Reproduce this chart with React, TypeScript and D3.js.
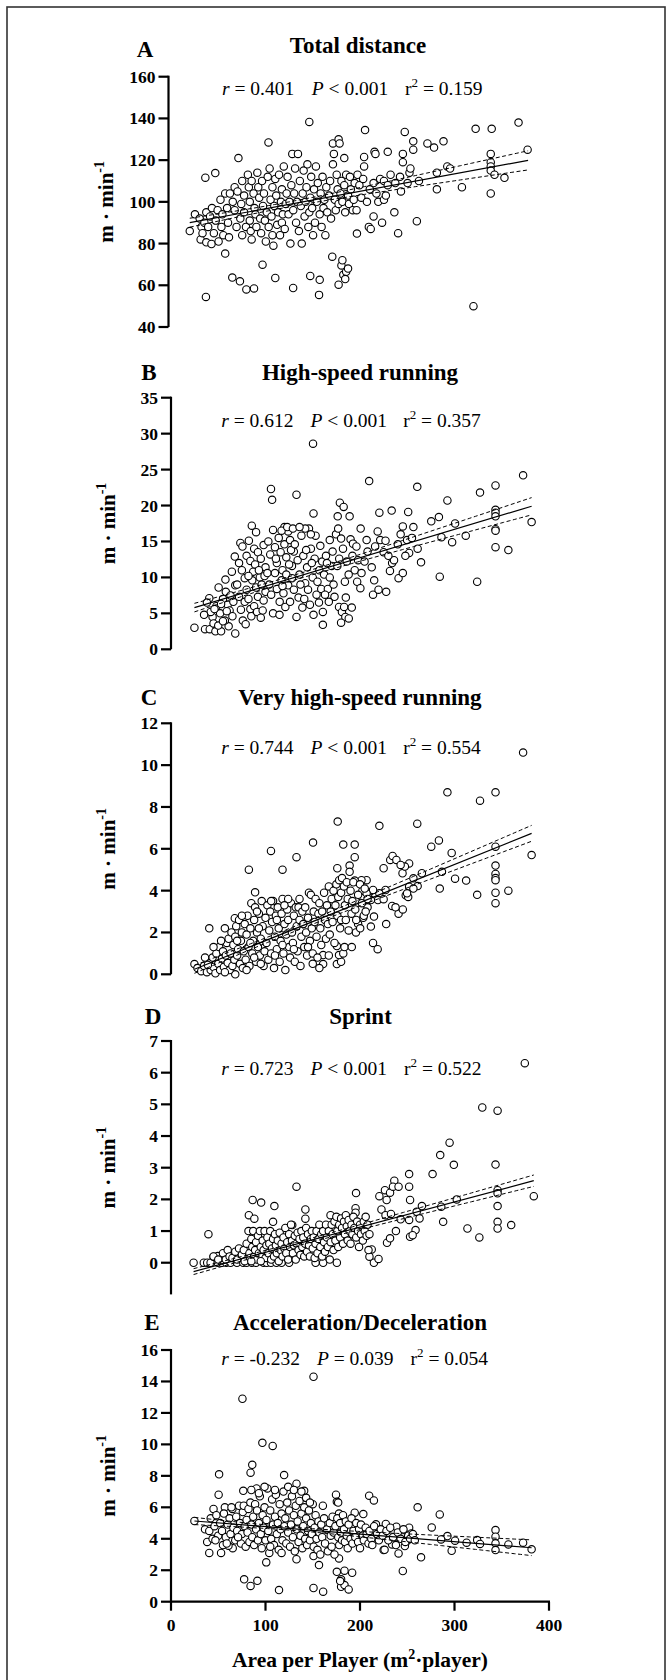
import React from 'react';
import * as d3 from 'd3';

// ---------- DATA ----------
const panelLetters = ['A', 'B', 'C', 'D', 'E'];
const panelTitles = ['Total distance', 'High-speed running', 'Very high-speed running', 'Sprint', 'Acceleration/Deceleration'];
const statR = ['0.401', '0.612', '0.744', '0.723', '-0.232'];
const statPOp = ['<', '<', '<', '<', '='];
const statP = ['0.001', '0.001', '0.001', '0.001', '0.039'];
const statR2 = ['0.159', '0.357', '0.554', '0.522', '0.054'];
const xTicks = [0, 100, 200, 300, 400];
const yDomains = [[40, 160], [0, 35], [0, 12], [-1, 7], [0, 16]];
const yTickValues = [
  [40, 60, 80, 100, 120, 140, 160],
  [0, 5, 10, 15, 20, 25, 30, 35],
  [0, 2, 4, 6, 8, 10, 12],
  [0, 1, 2, 3, 4, 5, 6, 7],
  [0, 2, 4, 6, 8, 10, 12, 14, 16],
];
// regression fits: line ends (x0,y0)-(x1,y1), mean x, CI half-width at mean and at x1
const fits = [
  { x0: 22.5, x1: 380.5, y0: 90.0, y1: 119.9, xm: 125, hm: 1.2, h1: 4.6 },
  { x0: 24.8, x1: 381.6, y0: 5.8, y1: 19.9, xm: 130, hm: 0.35, h1: 1.2 },
  { x0: 24.8, x1: 381.6, y0: 0.24, y1: 6.74, xm: 130, hm: 0.12, h1: 0.38 },
  { x0: 23.9, x1: 383.9, y0: -0.28, y1: 2.59, xm: 130, hm: 0.06, h1: 0.18 },
  { x0: 24.8, x1: 381.6, y0: 5.13, y1: 3.43, xm: 130, hm: 0.1, h1: 0.5 },
];

const totalDistance: number[][] = [
  [22.5,86],[28,94],[33,92],[34,82],[35,88],[40,80.6],[39,111.6],[39.6,54.4],[38,90],[40,95],[36,85],
  [42,88],[44,93],[45.5,79.8],[46,97],[48,85],[49.5,113.8],[50,91],[52,96],[53,81],[55,101],[56,88],[57,94],[58,84],[60,75.2],[60,104],[62,97],[63,90],[64,83],[65,104],
  [67.5,63.7],[68,100],[70,96],[70,107],[72,88],[73,105],[74,121],[75.6,61.9],[76,92],[77,99],[78,84],[78,110],[80,103],[80,95],[82.4,58],[82,88],
  [84,113],[85,107],[86,100],[86,91],[87,86],[88,82],[88,110],[90.5,58.5],[90,104],[91,97],[92,94],[93,88],[94,114],[95,107],[96,102],[97,92],[98,85],[99.5,69.9],[99,110],[100,98],
  [101,104],[102,91],[103,81],[104,95],[105,112],[105.8,128.5],[106,88],[107,116],[108,101],[109,93],[110,84],[110,107],[111,79],[112,98],[113,63.5],[113,111],[114,103],[115,89],[116,95],[117,113],[118,84],[119,100],[120,106],[120,90],
  [121,94],[122,117],[123,87],[124,99],[125,104],[126,112],[127,94],[128,100],[129,80],[130,108],[131,123],[131.9,58.7],[132,96],[133,104],[134,116],[135,90],[136,100],[137,123],[138,86],[139,110],[140,98],
  [141,80],[142,104],[143,115],[144,93],[145,100],[146,107],[147,118],[148,88],[149,138.3],[149,95],[150,64.5],[150,102],[151,112],[152,97],[153,84],[154,106],[155,90],[156,117],[157,100],[158,109],[159.3,55.4],[160,62.6],[160,94],
  [161,104],[162,88],[163,112],[164,97],[165,101],[166,84],[167,107],[168,95],[170,103],[171,110],[172,92],[173.3,73.7],[174,118],[174,128],[175,123],[176,101],[177,96],[178,113],[179,106],[180,60.3],[180,99],[180,130],[183,69.5],[185,65],[188,66.5],[190,68],[181,128],[186,121],
  [182,104],[183,110],[184,100],[186,108],[187,95],[188,113],[190,103],[191,99],[192,112],[193,106],[195,96],[196,101],[197,109],[199,96],[199.4,84.8],[200,113],[184,72],[187,63],
  [202,108],[204,102],[206,111],[207,117],[207,121.5],[208,134.4],[210,100],[212,88],[213,106],[214,87],[217,93],[217,109],[218,124],[219,123],[220,104],[222,100],[224,111],[226,90],[228,101],[228,110],[230,103],[232,124],[232,108],[235,113],[239,95],[240,109],[243,85],[245,112],[246,105],[248,123],[248,119],[250,133.5],[253,109],[255,114],[256,116],[259,129],[259,125],[262.8,90.7],
  [265,110],[274,128],[281,126],[284,114],[284,106],[291,129],[295,117],[298,116],[310.5,107],[322.7,50],[325,135],[341,123],[341,119],[341,117],[341,115],[341,104],[342,135],[345,113],[355.5,111.5],[370.4,138],[380,125],
];

const highSpeed: number[][] = [
  [24.8,3.0],[36,2.8],[41,2.8],[47,2.5],[53,2.5],[61,3.2],[68,2.2],[40.5,7.1],[50.4,8.6],[57.6,9.7],[64.4,10.8],[67.5,12.9],[44,4.5],[48,6.0],[52,5.0],[55,7.0],[57,4.0],[60,6.2],[62,5.4],[65,4.6],[45,3.6],[50,3.3],[55,3.9],[58,8.0],[63,7.5],[66,6.6],[68,8.9],[42,5.2],[46,5.6],[53,6.3],[59,5.3],[35,4.8],[38,6.5],
  [73.4,14.8],[75.6,14.3],[82.4,15.1],[85.5,17.2],[90,16.3],[72,12.0],[75,11.0],[78,9.9],[80,13.0],[84,12.3],[87,10.8],[88,14.0],[92,13.5],[95,12.6],[98,14.5],[70,9.0],[72,7.3],[74,5.5],[76,4.0],[78,6.6],[80,8.3],[82,7.0],[84,5.6],[86,9.6],[88,6.0],[90,8.6],[92,7.3],[94,10.0],[96,9.0],[98,6.8],[100,11.4],[100,8.0],[79,3.5],[85,4.6],[91,5.2],[97,5.4],[95,4.4],[82,10.2],[89,11.8],[93,11.0],[99,10.2],
  [105.8,22.3],[107,20.8],[103,15.0],[105,13.2],[108,16.6],[110,14.2],[112,12.0],[114,15.5],[116,13.5],[118,11.0],[120,14.6],[122,12.8],[124,16.4],[126,15.2],[128,11.6],[130,13.6],[102,10.6],[104,9.0],[106,7.6],[108,5.0],[110,10.6],[112,8.4],[114.8,4.8],[115,6.6],[117,9.6],[119,7.8],[121,5.9],[122,10.4],[124,8.9],[126,6.6],[128,9.9],[130,8.3],[111,12.6],[118,8.8],[125,11.8],[127,13.8],[120,17.0],[117,16.5],[123,17.0],[129,16.8],
  [132.8,21.5],[132.8,4.5],[134,12.4],[136,10.4],[138,15.8],[140,13.0],[142,9.2],[144,11.4],[146,16.8],[148,14.0],[150.3,28.6],[150.8,18.9],[150.8,4.8],[150,10.0],[152,12.6],[154,7.6],[156.6,6.5],[157,11.0],[158,14.4],[160.7,5.2],[160.7,3.4],[135,7.2],[137,9.0],[139,5.8],[141,7.0],[143,13.8],[145,8.3],[147,6.2],[149,12.0],[153,15.8],[155,9.4],[159,8.4],[160,12.2],[131,14.6],[142,16.8],[148,16.0],[136,17.0],
  [162,10.4],[164,13.0],[166,8.4],[168,15.2],[170,11.6],[172,9.0],[174.6,16.0],[176.4,18.5],[176.9,16.8],[177.8,5.9],[178.7,20.4],[182.7,19.8],[180,15.4],[180.9,5.2],[183.2,5.9],[184.5,4.5],[188.1,4.3],[180,3.7],[191.3,5.8],[189,18.5],[190,15.3],[192.6,14.7],[194.4,11.0],[196.2,14.3],[197,9.4],[200.4,8.5],[200.7,16.8],[201.6,10.6],[165,12.0],[168,10.0],[171,13.6],[173,7.3],[176,11.6],[178,12.6],[182,14.0],[184,9.4],[186,12.2],[188,10.4],[192,13.0],[198,12.4],[167,6.6],[163,7.6],[185,7.2],
  [204.8,12.2],[207,15.2],[208,13.6],[209.7,23.4],[212.4,11.4],[213.8,7.6],[215,9.6],[216,14.3],[218.7,16.4],[219.6,8.3],[221.4,15.2],[220.5,19.0],[227,15.1],[227.7,8.0],[231.7,10.9],[234,12.0],[233.5,19.3],[236,12.4],[240.8,9.9],[245.3,10.6],[245.3,17.1],[249.8,15.2],[251,19.1],[252,13.4],[256.5,17.0],[260.6,22.6],[261,14.0],[264.6,12.1],[225,13.5],[240,14.6],[248,13.0],[255,15.5],[230,13.0],[243,16.0],
  [275.4,17.8],[283.5,18.4],[284.4,10.1],[286.2,15.6],[292.5,20.7],[297.5,14.9],[300.6,17.5],[311.9,15.8],[324,9.4],[327,21.8],[343.4,22.8],[343.4,19.4],[343.4,19.0],[343.4,18.5],[343.4,16.7],[343.4,16.5],[343.4,14.2],[357,13.8],[372.6,24.2],[381.6,17.7],
];

const veryHighSpeed: number[][] = [
  [24.8,0.49],[40.5,2.2],[57,2.2],[67.5,2.68],[68,0],[82.4,5.0],[89,3.92],[105.8,5.9],[118,5.0],[132.8,5.6],[150.3,6.3],[176.4,7.3],[182.3,6.2],[194.4,6.2],[194.4,5.6],[189,5.2],[176,5.07],[220.5,7.1],[260.6,7.2],[275.4,6.1],[283.5,6.4],[292.5,8.7],[327,8.3],[343.4,8.7],[372.6,10.6],[381.6,5.7],[297,5.8],[286.7,4.9],[300.6,4.57],[312.3,4.48],[284.4,4.1],[324,3.8],[343.4,6.1],[343.4,5.2],[343.4,4.8],[343.4,4.6],[343.4,4.5],[343.4,3.9],[343.4,3.4],[357,4.0],
  [161,0.92],[161,0.49],[175.5,0.49],[180,0.6],[177.8,0.92],[182.3,1.0],[183.6,1.3],[191.3,1.3],[175.5,1.35],[213.8,1.5],[218.7,1.2],[211.5,2.28],[214.8,2.76],[227.7,2.4],[240.8,2.9],[245.3,3.1],[234,3.27],[237.6,3.2],[248.4,3.78],[251,3.7],[216,3.7],[208,3.2],[203.5,2.7],[198,2.4],[195.7,2.0],[200.2,2.2],[202.5,4.0],[207,4.5],[201.6,4.5],[194.4,4.48],[189,4.9],
  [225,5.07],[232,5.47],[234.5,5.66],[238.5,5.47],[245,4.83],[252,5.3],[256.5,4.59],[261,4.22],[265.5,4.83],[252,4.19],[256.5,4.1],[249.8,3.87],[247.5,5.15],[243,5.23],[227,4.03],[220.5,3.87],[219,3.55],[225,3.59],[213.8,4.03],[207,3.87],[211.5,3.55],
  [28,0.3],[32,0.15],[35,0.4],[38,0.1],[40,0.6],[42,0.2],[44,0.8],[45,0.35],[47,0.05],[48,1.0],[50,0.5],[51,1.3],[52,0.2],[54,0.75],[55,1.1],[56,0.35],[58,0.9],[59,1.5],[60,0.55],[61,1.7],[62,0.2],[36,0.8],[45,1.3],[53,1.6],[57,0.1],[39,0.45],
  [63,1.0],[64,2.0],[65,0.4],[66,1.4],[67,0.7],[68,1.8],[69,2.3],[70,0.9],[71,1.2],[72,2.6],[73,0.5],[74,1.6],[75,2.0],[76,0.3],[77,1.1],[78,2.4],[79,0.7],[80,1.9],[81,2.8],[82,1.3],[83,0.4],[84,2.2],[85,3.4],[86,1.0],[87,1.6],[88,2.6],[89,3.2],[90,0.6],[91,2.0],[92,1.3],[93,2.9],[94,0.9],[95,1.7],[96,3.5],[97,2.3],[98,0.4],[99,1.1],[100,2.7],[75,2.8],[80,0.2],[84,1.5],[91,3.0],[95,0.5],[70,1.6],[88,0.8],[93,2.2],
  [101,1.5],[102,3.3],[103,0.7],[104,2.1],[105,3.0],[106,1.0],[107,2.5],[108,3.5],[109,0.3],[110,1.8],[111,2.8],[112,1.2],[113,3.2],[114,2.2],[115,0.6],[116,1.6],[117,2.9],[118,3.6],[119,1.0],[120,2.4],[121,0.2],[122,1.9],[123,3.1],[124,2.6],[125,1.3],[126,0.8],[127,3.4],[128,2.0],[129,1.5],[130,2.8],[131,0.6],[132,3.2],[133,2.3],[134,1.1],[135,3.2],[136,2.6],[137,0.4],[138,1.8],[139,3.0],[140,2.4],[106,3.5],[112,2.6],[118,1.4],[124,3.6],[130,1.2],[136,3.6],[110,0.9],[120,3.3],
  [141,1.3],[142,3.2],[143,2.0],[144,0.9],[145,2.7],[146,3.9],[147,1.6],[148,3.8],[149,2.2],[150,1.0],[151,3.0],[152,2.5],[153,3.6],[154,1.8],[155,0.8],[156,2.9],[157,3.4],[158,2.2],[159,1.4],[160,3.0],[162,3.9],[163,2.6],[164,1.7],[165,3.3],[166,2.4],[167,4.2],[168,1.9],[169,3.0],[170,3.6],[171,2.5],[172,4.0],[173,1.5],[174,3.3],[175,4.3],[176,2.8],[177,3.7],[178,4.5],[179,2.2],[180,3.9],[181,4.6],[150,0.5],[157,0.3],[145,1.3],[167,0.9],[180,2.6],
  [183,4.2],[184,3.3],[185,2.6],[186,4.4],[187,3.6],[188,2.1],[190,4.0],[191,2.9],[192,3.5],[193,4.4],[195,3.1],[196,2.6],[198,3.8],[200,4.3],[202,3.4],[204,2.8],[205,4.1],[206,3.0],[208,3.6],
];

const sprint: number[][] = [
  [23.9,0],[34.7,0],[38.3,0],[41.9,0],[49.5,0],[54,0],[58.5,0],[63,0],[69.8,0],[76.5,0],[80,0],[85.5,0],[90,0],[98,0],[101.3,0],[105.8,0],[111.6,0],[117,0],[125,0],[153,0],[161,0],[175.5,0],
  [39.6,0.9],[45,0.19],[49.5,0.21],[54,0.08],[82.4,1.5],[86.4,1.98],[95.4,1.9],[109.4,1.79],[88.2,1.39],[108,1.29],[132.8,2.4],[142.2,1.68],[142.2,1.39],[128.3,1.19],[168.8,1.5],[195.8,2.2],[195.3,1.72],[195.3,1.58],
  [220.5,2.1],[226.4,2.29],[228.2,1.98],[231.8,2.21],[236.3,2.59],[234.9,2.4],[240.8,2.4],[252,2.8],[252,2.4],[253,1.98],[276.8,2.8],[284.9,3.4],[294.8,3.79],[299.3,3.09],[288,1.29],[286,1.77],[302.4,2.0],[313.7,1.08],[326.3,0.8],[329.4,4.9],[345.6,4.8],[343.4,3.1],[345.6,2.29],[345.6,2.19],[345.6,1.79],[345.6,1.29],[345.6,1.08],[360,1.19],[374.4,6.3],[383.9,2.1],
  [265.5,1.79],[260,1.61],[263,1.4],[252,1.35],[243,1.37],[258.8,1.03],[253,0.82],[255.7,0.87],[238,1.0],[228.6,0.63],[231.8,0.77],[214.7,0],[219.6,0.12],[210,0.19],[212.4,0.42],[222.7,1.68],[227,1.5],[232.8,1.54],
  [45,0.2],[50,0.1],[55,0.3],[58,0.1],[60,0.4],[62,0.2],[65,0.15],[68,0.35],[70,0.1],[72,0.45],[75,0.25],[77,0.4],[78,0.05],[80,0.6],[82,1.0],[83,0.3],[84,0.15],[85,0.75],[86,0.5],[87,1.0],[88,0.2],[89,0.4],[90,0.65],[91,0.1],[92,0.85],[93,0.3],[94,1.0],[95,0.5],[96,0.2],[97,0.7],[98,0.4],[99,1.0],[100,0.15],[101,0.55],[85,0.05],[95,0.05],
  [102,0.8],[103,0.3],[104,0.6],[105,1.0],[106,0.1],[107,0.45],[108,0.75],[109,0.2],[110,0.9],[111,0.55],[112,0.3],[113,0.7],[114,0.05],[115,0.95],[116,0.4],[117,0.6],[118,0.2],[119,0.8],[120,0.45],[121,1.1],[122,0.3],[123,0.65],[124,0.1],[125,0.9],[126,0.5],[127,1.2],[128,0.7],[129,0.3],[130,0.55],[131,0.85],[132,0.1],[133,0.6],[134,0.95],[135,0.4],[136,0.75],[137,0.25],[138,1.0],[139,0.5],[140,0.8],[141,0.2],[142,0.6],[143,1.1],[144,0.35],[145,0.9],[146,0.55],[147,0.2],[148,0.75],[149,1.0],[150,0.45],[151,0.8],[152,0.15],
  [153,0.6],[154,1.0],[155,0.3],[156,0.75],[157,1.2],[158,0.5],[159,0.9],[160,0.2],[161,1.0],[162,0.65],[163,0.35],[164,1.2],[165,0.8],[166,0.5],[167,1.0],[168,0.1],[169,0.65],[170,1.2],[171,0.9],[172,0.4],[173,1.3],[174,0.7],[175,1.45],[176,1.0],[177,0.5],[178,1.2],[179,0.8],[180,1.4],[181,1.1],[182,0.6],[183,1.3],[184,0.9],[185,1.5],[186,1.15],[187,0.7],[188,1.35],[189,1.0],[190,0.6],[191,1.2],[192,0.9],[193,1.45],[194,1.1],[196,0.8],[197,1.3],[198,1.0],[199,0.5],[200,1.2],[201,0.9],[203,0.7],[204,1.3],[205,1.0],[206,1.45],[207,0.85],[208,1.2],[209,0.4],[210,0.9],
];

const accDec: number[][] = [
  [24.8,5.13],[36,4.6],[40.5,4.5],[38.3,3.8],[40.5,3.1],[53,3.1],[65.3,3.4],[60.8,3.56],[50.9,8.1],[50.4,6.8],[45,5.9],[57,6.0],[75.6,12.9],[76.5,7.05],[77.4,1.42],[84.2,1.0],[91.4,1.33],[86,8.7],[84.2,8.2],[90.5,7.2],[96.7,10.1],[107.6,9.9],[119.7,8.05],[100.8,2.5],[114.3,0.74],[132.8,2.7],[132.8,7.5],[140.9,7.05],[150.8,14.3],[150.8,0.87],[161,0.64],[156.6,2.33],[150.8,2.9],[160.7,6.1],
  [174.6,6.8],[175.5,6.35],[176.9,6.3],[177.8,5.6],[177.8,2.75],[175.5,1.9],[180,1.42],[180,0.95],[183.6,1.06],[183.6,1.97],[188,0.78],[191.7,1.84],[179,1.31],[194.4,5.66],[203.5,5.57],[209.7,6.74],[214.7,6.44],
  [245.3,1.95],[261,6.0],[264.6,2.82],[275.9,4.72],[284.4,5.55],[297,3.24],[292.5,4.17],[285.8,3.96],[300.6,3.88],[312.8,3.75],[324,3.92],[327,3.67],[343.4,4.55],[343.4,4.13],[343.4,3.71],[343.4,3.28],[357,3.64],[372.6,3.75],[381.6,3.33],
  [240.8,3.07],[249.8,3.86],[252,4.7],[254.3,4.34],[247.5,3.54],[227.3,4.94],[238.5,4.77],[225,3.28],[234,3.64],[216.9,4.92],[215,3.92],
  [42,5.3],[44,4.0],[46,4.8],[48,5.5],[50,4.2],[52,5.0],[54,4.5],[55,3.6],[56,5.6],[58,4.1],[60,4.9],[62,5.3],[63,4.3],[65,5.9],[66,4.7],[68,3.9],[69,5.4],[70,4.5],[72,6.1],[73,5.0],[74,3.7],[75,4.3],[76,5.7],[77,6.1],[78,4.8],[79,3.5],[80,5.2],[47,3.9],[59,3.7],[64,6.0],[71,4.1],
  [81,4.4],[82,5.9],[83,3.8],[84,6.3],[85,4.9],[86,4.1],[87,5.4],[88,3.6],[89,6.2],[90,4.6],[91,5.8],[92,3.9],[93,5.0],[94,6.7],[95,4.3],[96,3.4],[97,5.5],[98,4.7],[99,6.0],[100,3.9],[101,5.2],[102,7.2],[103,4.5],[104,3.1],[105,5.8],[106,4.0],[107,6.5],[108,4.9],[109,3.6],[110,5.4],[111,6.8],[112,4.3],[113,5.0],[114,3.3],[115,6.2],[116,4.6],[117,5.6],[118,3.9],[119,7.0],[120,4.8],[85,7.1],[93,6.9],[99,7.3],[105,3.5],[110,7.1],[117,3.1],
  [121,5.3],[122,3.7],[123,6.3],[124,4.4],[125,5.8],[126,3.5],[127,4.9],[128,6.7],[129,4.1],[130,5.5],[131,3.2],[132,6.1],[133,4.6],[134,5.1],[135,3.8],[136,6.4],[137,4.2],[138,5.6],[139,3.4],[140,4.8],[141,6.0],[142,4.0],[143,5.3],[144,3.6],[145,4.5],[146,5.8],[147,3.9],[148,5.0],[149,4.3],[150,6.2],[151,3.5],[152,4.7],[153,5.5],[154,4.0],[155,3.3],[156,5.1],[157,4.4],[158,3.0],[159,4.9],[160,4.1],[124,7.3],[130,7.1],[138,7.0],[143,6.6],[147,6.3],
  [162,5.3],[163,3.7],[165,4.6],[166,3.2],[168,5.0],[169,4.2],[170,3.5],[171,5.4],[172,4.4],[173,3.0],[174,4.8],[176,5.3],[177,4.1],[178,3.6],[179,5.0],[180,4.4],[181,3.9],[182,5.5],[183,4.6],[184,3.8],[185,5.1],[186,4.2],[187,3.4],[188,4.9],[190,4.0],[191,5.3],[192,3.7],[193,4.5],[195,4.1],[196,5.0],[198,3.8],[199,4.6],[200,3.4],[201,4.9],[203,4.2],[204,3.9],[206,4.7],[207,4.3],[209,3.7],[210,4.5],[212,4.0],[213,3.6],[215,4.8],[218,4.3],[220,3.9],
  [222,4.6],[224,4.2],[226,3.3],[228,4.5],[230,3.9],[232,4.7],[235,4.1],[238,3.6],[240,4.4],[243,4.0],[246,4.6],[248,3.8],[251,4.2],[253,4.0],[256,4.3],[258,3.9],
];

const panelData = [totalDistance, highSpeed, veryHighSpeed, sprint, accDec];

// ---------- LAYOUT ----------
const layout = [
  { axisX: 168.5, yPix: [327, 76.7], letterX: 145, letterY: 57, titleX: 358, titleY: 53, statY: 95, statX: [222, 311.8, 405], ylabX: 112.5 },
  { axisX: 171, yPix: [649.3, 397.7], letterX: 149, letterY: 379.5, titleX: 360, titleY: 379.5, statY: 427, statX: [221.2, 310.5, 403.2], ylabX: 115 },
  { axisX: 171, yPix: [974.3, 723.3], letterX: 149, letterY: 704.5, titleX: 360, titleY: 704.5, statY: 754, statX: [221.2, 310.5, 403.2], ylabX: 115 },
  { axisX: 171, yPix: [1294.4, 1041], letterX: 153, letterY: 1024, titleX: 360.5, titleY: 1024, statY: 1075, statX: [221.2, 310.5, 404], ylabX: 115 },
  { axisX: 171, yPix: [1601.7, 1350], letterX: 152, letterY: 1330, titleX: 360, titleY: 1330, statY: 1365, statX: [221.2, 316.9, 410.5], ylabX: 115 },
];

const FONT = '"Liberation Serif", "Times New Roman", Times, serif';

function Panel({ idx }: { idx: number }) {
  const L = layout[idx];
  const pts = panelData[idx];
  const fit = fits[idx];
  const xs = d3.scaleLinear().domain([0, 400]).range([L.axisX, L.axisX + 378]);
  const ys = d3.scaleLinear().domain(yDomains[idx]).range(L.yPix);
  const slope = (fit.y1 - fit.y0) / (fit.x1 - fit.x0);
  const yhat = (x: number) => fit.y0 + slope * (x - fit.x0);
  const k2 = (fit.h1 * fit.h1 - fit.hm * fit.hm) / ((fit.x1 - fit.xm) * (fit.x1 - fit.xm));
  const half = (x: number) => Math.sqrt(fit.hm * fit.hm + k2 * (x - fit.xm) * (x - fit.xm));
  const samples = d3.range(0, 61).map((i) => fit.x0 + ((fit.x1 - fit.x0) * i) / 60);
  const line = d3.line<number>().x((x) => xs(x));
  const upper = line.y((x) => ys(yhat(x) + half(x)))(samples) || '';
  const lower = d3.line<number>().x((x) => xs(x)).y((x) => ys(yhat(x) - half(x)))(samples) || '';
  const mid = d3.line<number>().x((x) => xs(x)).y((x) => ys(yhat(x)))([fit.x0, fit.x1]) || '';
  const yMid = (L.yPix[0] + L.yPix[1]) / 2;
  const isLast = idx === 4;
  const dom = yDomains[idx];

  return (
    <g>
      <text x={L.letterX} y={L.letterY} textAnchor="middle" fontFamily={FONT} fontWeight="bold" fontSize={23}>{panelLetters[idx]}</text>
      <text x={L.titleX} y={L.titleY} textAnchor="middle" fontFamily={FONT} fontWeight="bold" fontSize={23}>{panelTitles[idx]}</text>
      <g fontFamily={FONT} fontSize={19.5}>
        <text x={L.statX[0]} y={L.statY}><tspan fontStyle="italic">r</tspan>{' = ' + statR[idx]}</text>
        <text x={L.statX[1]} y={L.statY}><tspan fontStyle="italic">P</tspan>{' ' + statPOp[idx] + ' ' + statP[idx]}</text>
        <text x={L.statX[2]} y={L.statY}>r<tspan dy={-8} fontSize={13}>2</tspan><tspan dy={8}>{' = ' + statR2[idx]}</tspan></text>
      </g>
      <text transform={`translate(${L.ylabX},${yMid}) rotate(-90)`} textAnchor="middle" fontFamily={FONT} fontWeight="bold" fontSize={21}>
        {'m · min'}<tspan dy={-9} fontSize={14}>-1</tspan>
      </text>
      {/* y axis */}
      <line x1={L.axisX} x2={L.axisX} y1={ys(dom[0]) + (isLast ? 1 : 0)} y2={ys(dom[1]) - 1} stroke="black" strokeWidth={2.2} />
      {yTickValues[idx].map((t) => (
        <g key={t}>
          <line x1={L.axisX - 10} x2={L.axisX} y1={ys(t)} y2={ys(t)} stroke="black" strokeWidth={2.2} />
          <text x={L.axisX - 13} y={ys(t) + 6} textAnchor="end" fontFamily={FONT} fontWeight="bold" fontSize={17.5}>{t}</text>
        </g>
      ))}
      {isLast && (
        <g>
          <line x1={xs(0) - 1} x2={xs(400) + 1} y1={ys(0)} y2={ys(0)} stroke="black" strokeWidth={2.2} />
          {xTicks.map((t) => (
            <g key={t}>
              <line x1={xs(t)} x2={xs(t)} y1={ys(0)} y2={ys(0) + 9} stroke="black" strokeWidth={2.2} />
              <text x={xs(t)} y={ys(0) + 29} textAnchor="middle" fontFamily={FONT} fontWeight="bold" fontSize={17.5}>{t}</text>
            </g>
          ))}
          <text x={360} y={1666.5} textAnchor="middle" fontFamily={FONT} fontWeight="bold" fontSize={21.5}>
            {'Area per Player (m'}<tspan dy={-8} fontSize={14}>2</tspan><tspan dy={8}>{'·player)'}</tspan>
          </text>
        </g>
      )}
      {pts.map(([x, y], i) => (
        <circle key={i} cx={xs(x)} cy={ys(y)} r={3.7} fill="white" stroke="black" strokeWidth={1.1} />
      ))}
      <path d={mid} fill="none" stroke="black" strokeWidth={1.2} />
      <path d={upper} fill="none" stroke="black" strokeWidth={1} strokeDasharray="4,2.5" />
      <path d={lower} fill="none" stroke="black" strokeWidth={1} strokeDasharray="4,2.5" />
    </g>
  );
}

export default function App() {
  return (
    <svg width={667} height={1680} style={{ position: 'absolute', left: 0, top: 0, background: 'white' }}>
      <rect x={0} y={0} width={667} height={1680} fill="white" />
      <rect x={7} y={7} width={658} height={1690} fill="none" stroke="#333" strokeWidth={1.6} />
      {[0, 1, 2, 3, 4].map((i) => <Panel key={i} idx={i} />)}
    </svg>
  );
}
